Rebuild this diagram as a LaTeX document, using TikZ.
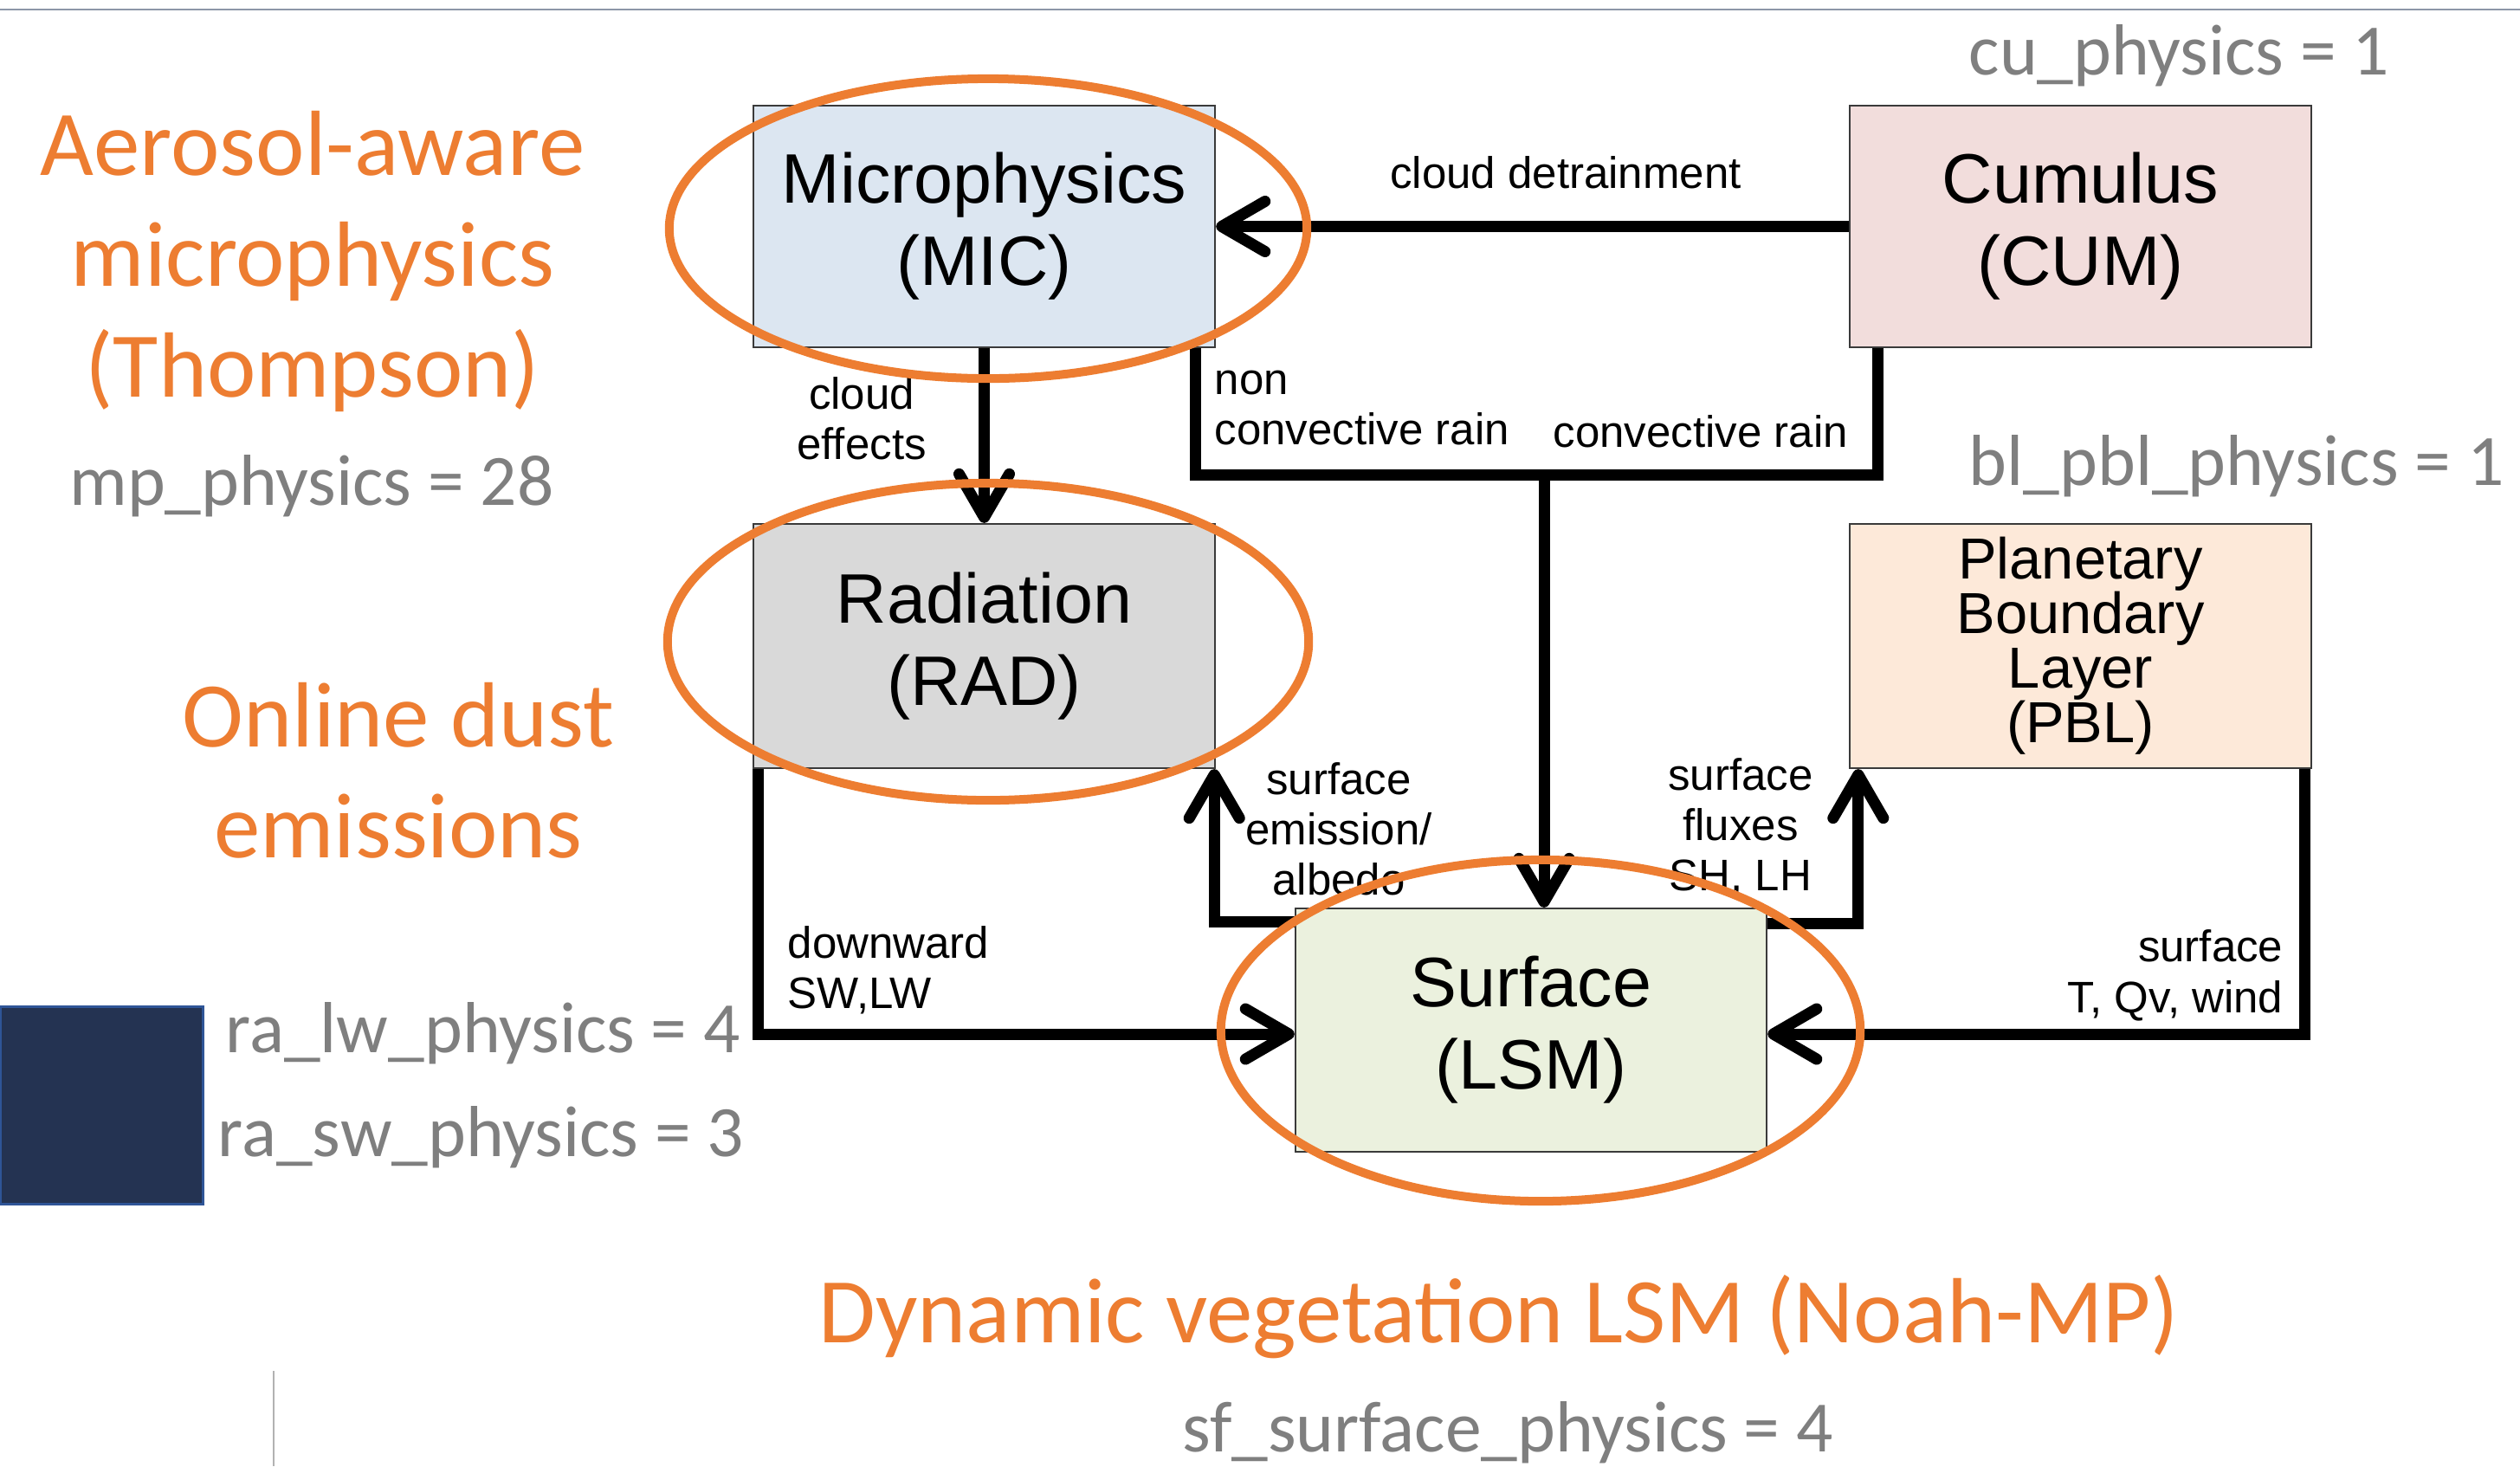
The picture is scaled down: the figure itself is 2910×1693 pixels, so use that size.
\documentclass[tikz,border=0pt]{standalone}
\usepackage{fontspec}
\newfontfamily\arial{Liberation Sans}
\newfontfamily\calibri{Carlito}
\usetikzlibrary{arrows.meta}

\definecolor{micfill}{HTML}{DCE6F1}
\definecolor{cumfill}{HTML}{F2DDDC}
\definecolor{radfill}{HTML}{D9D9D9}
\definecolor{pblfill}{HTML}{FDE9D9}
\definecolor{lsmfill}{HTML}{EBF1DE}
\definecolor{boxline}{HTML}{3A3A3A}
\definecolor{accent}{HTML}{ED7D31}
\definecolor{settinggray}{HTML}{7F7F7F}
\definecolor{navyfill}{HTML}{243352}
\definecolor{navyedge}{HTML}{2F5597}
\definecolor{topline}{HTML}{8C96A8}

% stacked lines whose baseline is that of the first line
\newcommand\cstack[1]{\vtop{\lineskiplimit=-100pt\halign{\hfil##\hfil\cr#1\crcr}}}
\newcommand\lstack[1]{\vtop{\lineskiplimit=-100pt\halign{##\hfil\cr#1\crcr}}}
\newcommand\rstack[1]{\vtop{\lineskiplimit=-100pt\halign{\hfil##\cr#1\crcr}}}

\begin{document}
\begin{tikzpicture}[x=0.01cm,y=-0.01cm,
  box/.style={draw=boxline, line width=0.6pt, minimum width=5.33cm, minimum height=2.79cm,
    inner sep=0pt, align=center, font=\arial\fontsize{23}{27}\selectfont},
  wire/.style={line width=0.13cm},
  flow/.style={wire, -{Straight Barb[length=0.5cm,width=0.58cm,round]}},
  lbl/.style={inner sep=0pt, font=\arial\fontsize{14.5}{16.5}\selectfont},
  note/.style={inner sep=0pt, text=accent, font=\calibri\fontsize{30.4}{36.4}\selectfont},
  setting/.style={inner sep=0pt, text=settinggray, font=\calibri\fontsize{23.75}{28}\selectfont},
  ring/.style={draw=accent, line width=0.1cm}]

\fill[white] (0,0) rectangle (2910,1693);
\useasboundingbox (0,0) rectangle (2910,1693);

% top rule and small decorations
\draw[topline, line width=0.02cm] (0,11) -- (2910,11);
\fill[navyfill, draw=navyedge, line width=0.03cm] (0,1162) rectangle (234,1390);
\draw[gray!60, line width=0.015cm] (316,1583) -- (316,1693);

% physics components
\node[box, fill=micfill] (MIC) at (1136.5,261.5) {Microphysics\\(MIC)};
\node[box, fill=cumfill] (CUM) at (2402.5,261.5) {Cumulus\\(CUM)};
\node[box, fill=radfill, minimum height=2.82cm] (RAD) at (1136.5,746) {Radiation\\(RAD)};
\node[box, fill=pblfill, minimum height=2.82cm,
  font={\arial\fontsize{19}{17.9}\selectfont\lineskiplimit=-20pt}] (PBL) at (2402.5,746)
  {Planetary\\Boundary\\Layer\\(PBL)};
\node[box, fill=lsmfill, minimum width=5.44cm, minimum height=2.81cm] (LSM) at (1768,1189.5) {Surface\\(LSM)};

% interactions
\coordinate (rainJ) at (1783,548);
\draw[flow] (CUM.west) -- (MIC.east);
\draw[flow] (MIC.south) -- (RAD.north);
\draw[wire] ([xshift=-0.24cm]MIC.south east) |- (rainJ) -| ([xshift=0.34cm]CUM.south west);
\draw[flow] (rainJ) -- (rainJ |- LSM.north);
\draw[flow] ([xshift=0.07cm]RAD.south west) |- ([yshift=-0.045cm]LSM.west);
\draw[flow] ([yshift=-0.17cm]LSM.north west) -| ([xshift=-0.02cm]RAD.south east);
\draw[flow] ([yshift=-0.19cm]LSM.north east) -| ([xshift=0.11cm]PBL.south west);
\draw[flow] ([xshift=-0.09cm]PBL.south east) |- ([yshift=-0.045cm]LSM.east);

% interaction labels
\node[lbl, anchor=base] (ldet) at (1808,217) {cloud detrainment};
\node[lbl, anchor=base] (lcld) at (995,472) {\cstack{cloud\cr effects}};
\node[lbl, anchor=base west] (lnon) at (1402,455) {\lstack{non\cr convective rain}};
\node[lbl, anchor=base west] (lcon) at (1793,516) {convective rain};
\node[lbl, anchor=base west] (ldown) at (909,1106) {\lstack{downward\cr SW,LW}};
\node[lbl, anchor=base] (lemis) at (1546,917) {\cstack{surface\cr emission/\cr albedo}};
\node[lbl, anchor=base] (lflux) at (2010,912) {\cstack{surface\cr fluxes\cr SH, LH}};
\node[lbl, anchor=base east, font=\arial\fontsize{14.5}{17}\selectfont] (lsfc) at (2637,1110) {\rstack{surface\cr T, Qv, wind}};

% scheme annotations
\node[note, anchor=base] (nmp) at (361,202) {\cstack{Aerosol-aware\cr microphysics\cr (Thompson)}};
\node[note, anchor=base] (ndust) at (460,862) {\cstack{Online dust\cr emissions}};
\node[note, anchor=base] (nlsm) at (1731,1550) {Dynamic vegetation LSM (Noah-MP)};

\node[setting, anchor=base] (smp) at (360,583) {mp\_physics = 28};
\node[setting, anchor=base west] (scu) at (2273,86) {cu\_physics = 1};
\node[setting, anchor=base west] (sbl) at (2273,560) {bl\_pbl\_physics = 1};
\node[setting, anchor=base west] (slw) at (260,1215) {ra\_lw\_physics = 4};
\node[setting, anchor=base west] (ssw) at (251,1335) {ra\_sw\_physics = 3};
\node[setting, anchor=base] (ssf) at (1741,1676) {sf\_surface\_physics = 4};

% highlighted schemes
\draw[ring] (1141,264) ellipse [x radius=3.68cm, y radius=1.73cm];
\draw[ring] (1141,741) ellipse [x radius=3.70cm, y radius=1.83cm];
\draw[ring] (1779,1190) ellipse [x radius=3.69cm, y radius=1.97cm];
\end{tikzpicture}
\end{document}
